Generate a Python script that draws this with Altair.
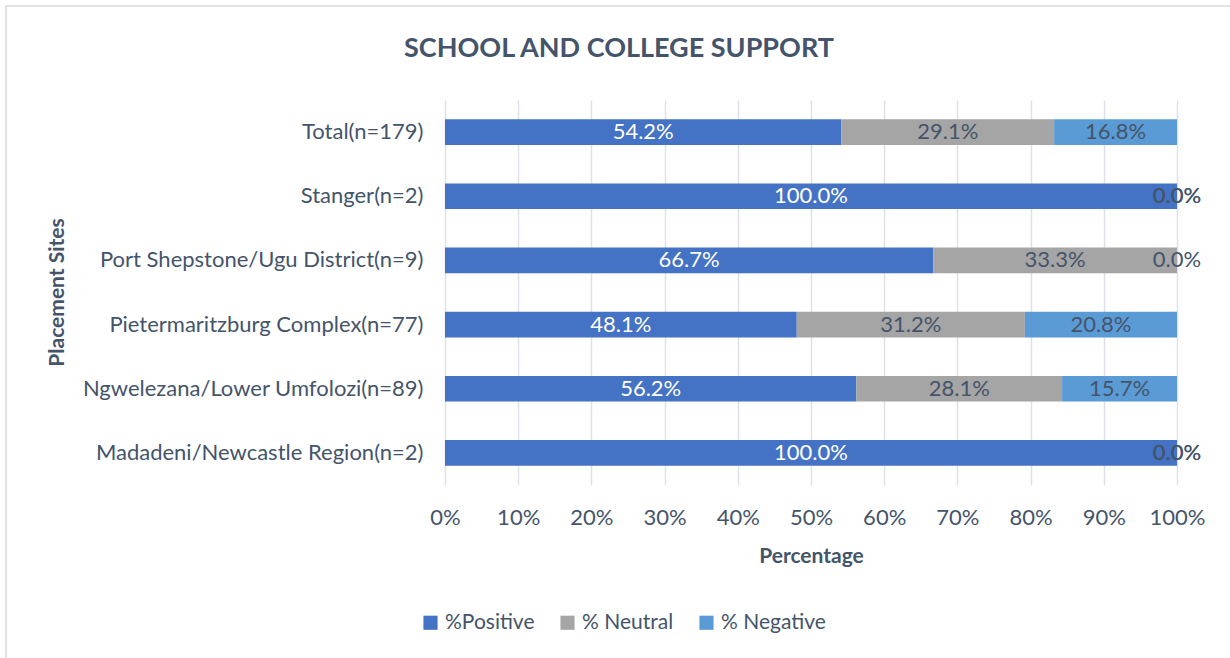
import altair as alt
import pandas as pd

sites = ["Total(n=179)", "Stanger(n=2)", "Port Shepstone/Ugu District(n=9)",
         "Pietermaritzburg Complex(n=77)", "Ngwelezana/Lower Umfolozi(n=89)",
         "Madadeni/Newcastle Region(n=2)"]
positive = [54.2, 100.0, 66.7, 48.1, 56.2, 100.0]
neutral = [29.1, 0.0, 33.3, 31.2, 28.1, 0.0]
negative = [16.8, 0.0, 0.0, 20.8, 15.7, 0.0]
series = ["%Positive", "% Neutral", "% Negative"]
colors = ["#4472C4", "#A5A5A5", "#5B9BD5"]
label_colors = ["#FFFFFF", "#44546A", "#44546A"]
chart_title = "SCHOOL AND COLLEGE SUPPORT"

rows = []
for i, s in enumerate(sites):
    for j, (name, vals) in enumerate(zip(series, [positive, neutral, negative])):
        rows.append({"site": s, "series": name, "value": vals[i], "order": j,
                     "label": f"{vals[i]:.1f}%", "lc": label_colors[j]})
df = pd.DataFrame(rows)

FONT = "Lato"
TXT = "#44546A"
FS = 22

base = alt.Chart(df).transform_stack(
    stack="value", groupby=["site"], as_=["v0", "v1"], offset="normalize",
    sort=[alt.SortField("order", order="ascending")]
).transform_calculate(mid="(datum.v0 + datum.v1) / 2")

y_enc = alt.Y("site:N", sort=sites, title="Placement Sites",
              scale=alt.Scale(paddingInner=0.6, paddingOuter=0.3),
              axis=alt.Axis(labelFontSize=FS, labelColor=TXT, labelFont=FONT,
                            ticks=False, tickSize=0, labelPadding=22, domain=False,
                            titleFont=FONT, titleFontSize=21, titleColor=TXT,
                            titleFontWeight="bold", titleX=-388, titleY=192,
                            titleBaseline="middle", titleAlign="center",
                            labelLimit=500))

bars = base.mark_bar(cornerRadius=0).encode(
    x=alt.X("v0:Q", scale=alt.Scale(domain=[0, 1], nice=False),
            title="Percentage",
            axis=alt.Axis(format=".0%", values=[i / 10 for i in range(11)],
                          labelFontSize=FS, labelColor=TXT, labelFont=FONT,
                          labelFlush=False, labelOverlap=False,
                          ticks=False, tickSize=0, labelPadding=22, domain=False,
                          grid=True, gridColor="#DDE1E7", gridWidth=1.5,
                          titleFont=FONT, titleFontSize=21, titleColor=TXT,
                          titleFontWeight="bold", titlePadding=17)),
    x2="v1:Q",
    y=y_enc,
    color=alt.Color("series:N", sort=series,
                    scale=alt.Scale(domain=series, range=colors),
                    legend=alt.Legend(title=None, orient="none", direction="horizontal",
                                      legendX=-25, legendY=512, symbolType="square",
                                      symbolSize=200, symbolStrokeWidth=0,
                                      labelFontSize=21, labelColor=TXT, labelFont=FONT,
                                      columnPadding=22, symbolOffset=0)),
    order=alt.Order("order:Q"),
)

labels = base.mark_text(fontSize=FS, font=FONT).encode(
    x="mid:Q",
    y=alt.Y("site:N", sort=sites),
    text="label:N",
    color=alt.Color("lc:N", scale=None, legend=None),
)

deco = pd.DataFrame({"t": [chart_title]})
border = alt.Chart(deco).mark_rect(
    fill=None, stroke="#D9D9D9", strokeWidth=1.5
).encode(x=alt.value(-439), x2=alt.value(800), y=alt.value(-94), y2=alt.value(570))

title = alt.Chart(deco).mark_text(
    font=FONT, fontSize=27, fontWeight="bold", color=TXT, align="center", baseline="middle"
).encode(x=alt.value(174), y=alt.value(-51), text="t:N")

chart = alt.layer(border, title, bars, labels).properties(
    width=732, height=385,
    autosize=alt.AutoSizeParams(type="none"),
    padding={"left": 445, "top": 100, "right": 53, "bottom": 173},
).configure(background="white").configure_view(stroke=None)

chart.save("out.html", embed_options={"renderer": "svg", "actions": False})
